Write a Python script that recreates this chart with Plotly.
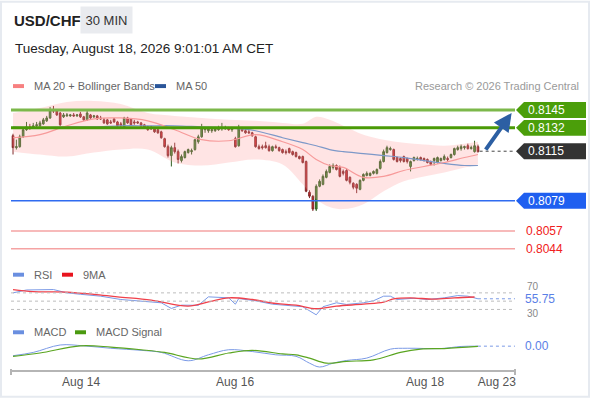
import plotly.graph_objects as go

# ---- data ----
# USD/CHF 30 min candles
open_ = [
    0.81263, 0.81176, 0.81183, 0.81255, 0.81306, 0.81327, 0.81320, 0.81335, 0.81335, 0.81349,
    0.81371, 0.81392, 0.81450, 0.81443, 0.81428, 0.81400, 0.81407, 0.81407, 0.81414, 0.81407,
    0.81421, 0.81400, 0.81378, 0.81414, 0.81400, 0.81407, 0.81392, 0.81378, 0.81378, 0.81363,
    0.81385, 0.81363, 0.81349, 0.81327, 0.81392, 0.81385, 0.81363, 0.81363, 0.81356, 0.81342,
    0.81327, 0.81320, 0.81313, 0.81306, 0.81291, 0.81241, 0.81183, 0.81118, 0.81176, 0.81147,
    0.81082, 0.81104, 0.81140, 0.81147, 0.81162, 0.81219, 0.81255, 0.81306, 0.81299, 0.81299,
    0.81299, 0.81306, 0.81313, 0.81313, 0.81320, 0.81306, 0.81241, 0.81190, 0.81313, 0.81299,
    0.81291, 0.81284, 0.81255, 0.81183, 0.81183, 0.81190, 0.81183, 0.81154, 0.81183, 0.81176,
    0.81162, 0.81147, 0.81169, 0.81147, 0.81140, 0.81111, 0.81111, 0.81075, 0.80852, 0.80823,
    0.80729, 0.80895, 0.80909, 0.80960, 0.80996, 0.81032, 0.81046, 0.81032, 0.81003, 0.81010,
    0.80960, 0.80917, 0.80909, 0.80873, 0.80938, 0.80974, 0.80974, 0.80989, 0.80989, 0.81025,
    0.81075, 0.81140, 0.81162, 0.81162, 0.81104, 0.81097, 0.81111, 0.81097, 0.81039, 0.81082,
    0.81090, 0.81104, 0.81097, 0.81090, 0.81075, 0.81082, 0.81068, 0.81082, 0.81090, 0.81097,
    0.81104, 0.81126, 0.81162, 0.81169, 0.81176, 0.81190, 0.81169, 0.81147, 0.81183,
]
high = [
    0.81277, 0.81234, 0.81270, 0.81320, 0.81363, 0.81349, 0.81356, 0.81363, 0.81371, 0.81392,
    0.81407, 0.81472, 0.81479, 0.81450, 0.81436, 0.81428, 0.81428, 0.81421, 0.81428, 0.81421,
    0.81436, 0.81407, 0.81443, 0.81421, 0.81414, 0.81414, 0.81407, 0.81392, 0.81385, 0.81378,
    0.81392, 0.81371, 0.81363, 0.81400, 0.81400, 0.81392, 0.81378, 0.81371, 0.81363, 0.81349,
    0.81335, 0.81335, 0.81320, 0.81313, 0.81299, 0.81248, 0.81198, 0.81190, 0.81212, 0.81162,
    0.81126, 0.81154, 0.81169, 0.81169, 0.81241, 0.81270, 0.81349, 0.81327, 0.81327, 0.81320,
    0.81327, 0.81335, 0.81356, 0.81335, 0.81327, 0.81327, 0.81255, 0.81342, 0.81327, 0.81313,
    0.81306, 0.81291, 0.81263, 0.81198, 0.81198, 0.81219, 0.81198, 0.81190, 0.81198, 0.81183,
    0.81169, 0.81162, 0.81176, 0.81154, 0.81147, 0.81118, 0.81118, 0.81082, 0.80866, 0.80830,
    0.80909, 0.80945, 0.80981, 0.81017, 0.81054, 0.81061, 0.81054, 0.81046, 0.81017, 0.81025,
    0.80967, 0.80924, 0.80917, 0.80945, 0.80989, 0.81003, 0.80996, 0.81010, 0.81025, 0.81090,
    0.81162, 0.81190, 0.81183, 0.81169, 0.81111, 0.81104, 0.81118, 0.81104, 0.81082, 0.81111,
    0.81111, 0.81111, 0.81104, 0.81097, 0.81082, 0.81104, 0.81111, 0.81104, 0.81126, 0.81111,
    0.81133, 0.81176, 0.81190, 0.81198, 0.81190, 0.81205, 0.81190, 0.81226, 0.81198,
]
low = [
    0.81126, 0.81162, 0.81176, 0.81248, 0.81299, 0.81306, 0.81313, 0.81320, 0.81327, 0.81342,
    0.81363, 0.81385, 0.81428, 0.81407, 0.81335, 0.81392, 0.81400, 0.81400, 0.81400, 0.81400,
    0.81392, 0.81371, 0.81371, 0.81385, 0.81392, 0.81378, 0.81378, 0.81349, 0.81342, 0.81349,
    0.81356, 0.81327, 0.81320, 0.81320, 0.81349, 0.81335, 0.81342, 0.81349, 0.81327, 0.81313,
    0.81299, 0.81306, 0.81284, 0.81277, 0.81241, 0.81176, 0.81104, 0.81039, 0.81133, 0.81061,
    0.81068, 0.81097, 0.81133, 0.81126, 0.81154, 0.81205, 0.81248, 0.81284, 0.81284, 0.81284,
    0.81291, 0.81299, 0.81299, 0.81306, 0.81299, 0.81291, 0.81176, 0.81183, 0.81291, 0.81277,
    0.81277, 0.81255, 0.81176, 0.81162, 0.81162, 0.81169, 0.81147, 0.81147, 0.81169, 0.81147,
    0.81133, 0.81126, 0.81133, 0.81118, 0.81104, 0.81090, 0.81061, 0.80852, 0.80809, 0.80715,
    0.80715, 0.80888, 0.80902, 0.80953, 0.80989, 0.81017, 0.81010, 0.80960, 0.80974, 0.80931,
    0.80909, 0.80873, 0.80845, 0.80866, 0.80931, 0.80967, 0.80967, 0.80981, 0.80981, 0.81017,
    0.81068, 0.81133, 0.81154, 0.81082, 0.81068, 0.81068, 0.81068, 0.81061, 0.81003, 0.81075,
    0.81082, 0.81082, 0.81075, 0.81061, 0.81046, 0.81046, 0.81061, 0.81075, 0.81082, 0.81075,
    0.81097, 0.81118, 0.81154, 0.81154, 0.81162, 0.81162, 0.81162, 0.81140, 0.81140,
]
close = [
    0.81176, 0.81183, 0.81255, 0.81306, 0.81327, 0.81320, 0.81335, 0.81342, 0.81356, 0.81378,
    0.81392, 0.81450, 0.81443, 0.81414, 0.81342, 0.81414, 0.81414, 0.81414, 0.81407, 0.81414,
    0.81400, 0.81378, 0.81428, 0.81392, 0.81407, 0.81385, 0.81385, 0.81356, 0.81349, 0.81356,
    0.81363, 0.81335, 0.81335, 0.81392, 0.81356, 0.81342, 0.81356, 0.81356, 0.81335, 0.81320,
    0.81306, 0.81313, 0.81291, 0.81284, 0.81248, 0.81183, 0.81118, 0.81176, 0.81147, 0.81090,
    0.81111, 0.81147, 0.81162, 0.81154, 0.81234, 0.81255, 0.81320, 0.81313, 0.81313, 0.81306,
    0.81313, 0.81320, 0.81320, 0.81320, 0.81306, 0.81313, 0.81183, 0.81313, 0.81299, 0.81284,
    0.81284, 0.81263, 0.81183, 0.81169, 0.81176, 0.81176, 0.81154, 0.81183, 0.81176, 0.81154,
    0.81140, 0.81140, 0.81140, 0.81126, 0.81111, 0.81097, 0.81068, 0.80859, 0.80823, 0.80729,
    0.80895, 0.80931, 0.80967, 0.81003, 0.81039, 0.81046, 0.81017, 0.80967, 0.80989, 0.80938,
    0.80924, 0.80888, 0.80881, 0.80938, 0.80981, 0.80989, 0.80989, 0.81003, 0.81017, 0.81075,
    0.81147, 0.81176, 0.81169, 0.81090, 0.81075, 0.81082, 0.81075, 0.81075, 0.81075, 0.81104,
    0.81097, 0.81090, 0.81082, 0.81068, 0.81054, 0.81097, 0.81104, 0.81097, 0.81111, 0.81090,
    0.81126, 0.81169, 0.81176, 0.81183, 0.81183, 0.81169, 0.81176, 0.81190, 0.81147,
]
candle_idx = list(range(len(close)))

# moving averages / bollinger bands, sampled at candle positions
ma_idx = [0, 8, 16, 24, 32, 40, 48, 56, 64, 72, 80, 86, 90, 94, 98, 104, 110, 116, 122, 128, 134, 138]
bb_upper = [0.81428, 0.81464, 0.81508, 0.81515, 0.81493, 0.81428, 0.81407, 0.81392, 0.81378, 0.81371, 0.81356,
            0.81349, 0.81400, 0.81378, 0.81335, 0.81270, 0.81234, 0.81212, 0.81198, 0.81190, 0.81205, 0.81219]
bb_lower = [0.81147, 0.81126, 0.81111, 0.81140, 0.81162, 0.81162, 0.81068, 0.81046, 0.81068, 0.81090, 0.81054,
            0.80909, 0.80801, 0.80744, 0.80729, 0.80765, 0.80859, 0.80931, 0.80967, 0.80996, 0.81032, 0.81054]
ma20 = [0.81248, 0.81270, 0.81335, 0.81385, 0.81392, 0.81371, 0.81306, 0.81234, 0.81226, 0.81270, 0.81219,
        0.81162, 0.81090, 0.81046, 0.81032, 0.80960, 0.80967, 0.81010, 0.81039, 0.81068, 0.81104, 0.81126]
ma50 = [0.81327, 0.81320, 0.81327, 0.81327, 0.81335, 0.81335, 0.81335, 0.81327, 0.81320, 0.81299, 0.81248,
        0.81212, 0.81190, 0.81162, 0.81147, 0.81133, 0.81118, 0.81104, 0.81082, 0.81061, 0.81046, 0.81046]

# RSI panel
rsi_idx = [0, 4, 12, 16, 20, 26, 32, 38, 44, 47, 50, 55, 58, 64, 66, 67, 72, 77, 83, 86, 90, 92,
           96, 99, 104, 107, 110, 112, 114, 119, 123, 128, 132, 135, 138]
rsi = [70, 77, 78, 70, 66.6, 62, 54, 50.8, 46, 32.4, 40.3, 40, 60.4, 58, 42.7, 56.3, 50.8, 42.7, 38, 36.5, 17, 36.5,
       46, 42, 46, 51, 62, 62, 54, 57, 54, 58, 63.5, 62, 55.75]
rsi_ma_idx = [0, 6, 16, 24, 31, 41, 52, 58, 64, 71, 78, 84, 90, 96, 104, 110, 113, 118, 125, 131, 137]
rsi_ma = [77.9, 73, 72, 66.6, 60.4, 52.3, 38, 48, 58, 54, 44.4, 40.3, 31.7, 38, 42.7, 47.5, 55.6, 58, 54.7, 58, 60]
rsi_levels = [70, 50, 30]

# MACD panel
macd_idx = [0, 6, 14, 21, 29, 38, 44, 52, 58, 64, 71, 78, 84, 88, 91, 95, 99, 105, 112, 117, 127, 133, 138]
macd = [-0.00032, -0.00021, 0.00004, 0.00001, -0.00007, -0.00014, -0.00021, -0.00049, -0.00029, -0.00012,
        -0.00018, -0.00029, -0.00034, -0.00057, -0.0007, -0.00057, -0.00048, -0.0004, -0.0001, -0.00007,
        -0.00008, -0.00001, 0.0]
signal_idx = [0, 8, 20, 29, 38, 45, 55, 64, 71, 80, 84, 88, 93, 99, 107, 115, 121, 128, 138]
signal = [-0.00034, -0.00023, 0.00001, -0.00003, -0.00012, -0.00021, -0.00043, -0.00023, -0.00014, -0.00026,
          -0.00029, -0.0004, -0.00057, -0.00051, -0.00046, -0.00021, -0.0001, -0.00008, -0.00001]

# key levels on the right
tag_levels = [0.8145, 0.8132, 0.8115, 0.8079]
red_levels = [0.8057, 0.8044]
last_price = 0.8115
target = 0.81428

tick_pos = [20.2, 65.9, 122.3, 143.6]
tick_text = ["Aug 14", "Aug 16", "Aug 18", "Aug 23"]

FONT = "Liberation Sans, Arial, sans-serif"
W, H = 590, 400
L, R, T, B = 11, 75, 98, 28
PW, PH = W - L - R, H - T - B


def px(X):
    return (X - L) / PW


def py(Y):
    return (H - B - Y) / PH


fig = go.Figure()

# bollinger band
fig.add_trace(go.Scatter(x=ma_idx, y=bb_lower, mode="lines", line=dict(width=0, shape="spline"),
                         hoverinfo="skip", showlegend=False))
fig.add_trace(go.Scatter(x=ma_idx, y=bb_upper, mode="lines", line=dict(width=0, shape="spline"),
                         fill="tonexty", fillcolor="rgba(255,150,150,0.26)", hoverinfo="skip", showlegend=False))
fig.add_trace(go.Scatter(x=ma_idx, y=ma50, mode="lines", line=dict(color="#7d98c8", width=1.2, shape="spline"),
                         showlegend=False))
fig.add_trace(go.Scatter(x=ma_idx, y=ma20, mode="lines", line=dict(color="#f79a9a", width=1.2, shape="spline"),
                         showlegend=False))

fig.add_trace(go.Candlestick(
    x=candle_idx, open=open_, high=high, low=low, close=close,
    increasing=dict(line=dict(color="#2f5f22", width=1), fillcolor="#3f9a32"),
    decreasing=dict(line=dict(color="#7e2a2a", width=1), fillcolor="#e2242a"),
    whiskerwidth=0, showlegend=False))

# RSI
fig.add_trace(go.Scatter(x=rsi_idx, y=rsi, yaxis="y2", mode="lines",
                         line=dict(color="#7b9ae6", width=1), showlegend=False))
fig.add_trace(go.Scatter(x=rsi_ma_idx, y=rsi_ma, yaxis="y2", mode="lines",
                         line=dict(color="#f0404a", width=1.3, shape="spline"), showlegend=False))

# MACD
fig.add_trace(go.Scatter(x=macd_idx, y=macd, yaxis="y3", mode="lines",
                         line=dict(color="#7b9ae6", width=1, shape="spline"), showlegend=False))
fig.add_trace(go.Scatter(x=signal_idx, y=signal, yaxis="y3", mode="lines",
                         line=dict(color="#5aa520", width=1.2, shape="spline"), showlegend=False))

shapes = []
annotations = []

# horizontal levels
level_style = {0.8145: ("#7cb84a", 3), 0.8132: ("#4a9a06", 3), 0.8079: ("#2f6bf0", 1.5)}
for lv, (col, wd) in level_style.items():
    shapes.append(dict(type="line", xref="paper", yref="y", x0=0, x1=1, y0=lv, y1=lv,
                       line=dict(color=col, width=wd)))
for lv in red_levels:
    shapes.append(dict(type="line", xref="paper", yref="y", x0=0, x1=1, y0=lv, y1=lv,
                       line=dict(color="#f5a3a3", width=1.5)))
    annotations.append(dict(xref="paper", yref="y", x=px(524), y=lv, xanchor="left", yanchor="middle",
                            text=f"{lv:.4f}", showarrow=False, font=dict(color="#f02020", size=12, family=FONT)))
shapes.append(dict(type="line", xref="x", yref="y", x0=len(close) - 0.5, x1=149, y0=last_price, y1=last_price,
                   line=dict(color="#444", width=1, dash="dot")))

# price tags
tag_colors = ["#4b9e0a", "#4b9e0a", "#333333", "#1f5ff0"]
half = 8 / 13861
for lv, col in zip(tag_levels, tag_colors):
    x_tip, x0, x1 = px(516), px(524), px(586)
    path = (f"M {x_tip},{lv} L {x0},{lv + half} L {x1},{lv + half} "
            f"L {x1},{lv - half} L {x0},{lv - half} Z")
    shapes.append(dict(type="path", xref="paper", yref="y", path=path, fillcolor=col, line=dict(width=0)))
    annotations.append(dict(xref="paper", yref="y", x=px(526), y=lv, xanchor="left", yanchor="middle",
                            text=f"{lv:.4f}", showarrow=False, font=dict(color="white", size=12, family=FONT)))

# forecast arrow
annotations.append(dict(x=148, y=target, xref="x", yref="y", ax=140, ay=last_price, axref="x", ayref="y",
                        text="", showarrow=True, arrowhead=2, arrowsize=0.9, arrowwidth=4,
                        arrowcolor="#2c5fa3", standoff=0))

# RSI guide lines and labels
for lv in rsi_levels:
    shapes.append(dict(type="line", xref="paper", yref="y2", x0=0, x1=1, y0=lv, y1=lv,
                       line=dict(color="#bdbdbd", width=1, dash="dot")))
shapes.append(dict(type="line", xref="x", yref="y2", x0=rsi_idx[-1], x1=149, y0=rsi[-1], y1=rsi[-1],
                   line=dict(color="#7b9ae6", width=1, dash="dot")))
for lv, Y in ((70, 288), (30, 315)):
    annotations.append(dict(xref="paper", yref="paper", x=px(525), y=py(Y), xanchor="left", yanchor="middle",
                            text=str(lv), showarrow=False, font=dict(color="#888", size=10, family=FONT)))
annotations.append(dict(xref="paper", yref="y2", x=px(523), y=rsi[-1], xanchor="left", yanchor="middle",
                        text=f"{rsi[-1]:.2f}", showarrow=False, bgcolor="white", height=12,
                        font=dict(color="#5b80e6", size=12, family=FONT)))

# MACD zero label
shapes.append(dict(type="line", xref="x", yref="y3", x0=macd_idx[-1], x1=149, y0=macd[-1], y1=macd[-1],
                   line=dict(color="#7b9ae6", width=1, dash="dot")))
annotations.append(dict(xref="paper", yref="y3", x=px(523), y=macd[-1], xanchor="left", yanchor="middle",
                        text=f"{macd[-1]:.2f}", showarrow=False, bgcolor="white",
                        font=dict(color="#5b80e6", size=12, family=FONT)))

# axis end ticks
for X in (11, 515):
    shapes.append(dict(type="line", xref="paper", yref="paper", x0=px(X), x1=px(X), y0=py(371), y1=py(377),
                       line=dict(color="#b5b5b5", width=2)))


# legends
def legend_item(X, Y, color, label):
    shapes.append(dict(type="rect", xref="paper", yref="paper", x0=px(X), x1=px(X + 11),
                       y0=py(Y + 2), y1=py(Y - 2), fillcolor=color, line=dict(width=0)))
    annotations.append(dict(xref="paper", yref="paper", x=px(X + 19), y=py(Y), xanchor="left", yanchor="middle",
                            text=label, showarrow=False, font=dict(color="#666", size=11, family=FONT)))


legend_item(13, 86, "#f78080", "MA 20 + Bollinger Bands")
legend_item(155, 86, "#2a5599", "MA 50")
legend_item(13, 276, "#6a8fe0", "RSI")
legend_item(62, 276, "#e8141e", "9MA")
legend_item(13, 334, "#6a8fe0", "MACD")
legend_item(75, 334, "#4a9a10", "MACD Signal")

# header
annotations.append(dict(xref="paper", yref="paper", x=px(12), y=py(20), xanchor="left", yanchor="middle",
                        text="<b>USD/CHF</b>", showarrow=False, font=dict(color="#222", size=15, family=FONT)))
annotations.append(dict(xref="paper", yref="paper", x=px(106), y=py(19), xanchor="center", yanchor="middle",
                        text="30 MIN", showarrow=False, bgcolor="#e9ebef", width=49, height=24,
                        font=dict(color="#333", size=13, family=FONT)))
annotations.append(dict(xref="paper", yref="paper", x=px(13), y=py(48), xanchor="left", yanchor="middle",
                        text="Tuesday, August 18, 2026 9:01:01 AM CET", showarrow=False,
                        font=dict(color="#222", size=13.5, family=FONT)))
annotations.append(dict(xref="paper", yref="paper", x=px(581), y=py(86), xanchor="right", yanchor="middle",
                        text="Research © 2026 Trading Central", showarrow=False,
                        font=dict(color="#9a9a9a", size=11, family=FONT)))

# outer frame
shapes.append(dict(type="rect", xref="paper", yref="paper", x0=px(1), x1=px(589), y0=py(399), y1=py(1),
                   line=dict(color="#e6eaf0", width=2), layer="below"))

fig.update_layout(
    width=W, height=H,
    margin=dict(l=L, r=R, t=T, b=B),
    paper_bgcolor="white", plot_bgcolor="white",
    showlegend=False,
    xaxis=dict(range=[-0.6, 149], anchor="y3", tickvals=tick_pos, ticktext=tick_text, showgrid=False,
               zeroline=False, showline=True, linecolor="#b5b5b5", linewidth=2, ticks="",
               tickfont=dict(color="#555", size=12, family=FONT), rangeslider=dict(visible=False)),
    yaxis=dict(domain=[py(262), 1], range=[0.80353, 0.81537], visible=False),
    yaxis2=dict(domain=[py(320), py(286)], range=[8.4, 89.9], visible=False),
    yaxis3=dict(domain=[0, py(338)], range=[-0.0008, 0.000333], visible=False),
    shapes=shapes,
    annotations=annotations,
)

# page body has a default margin; remove it so the figure sits at the window origin
fig.write_html("out.html", config={"displayModeBar": False},
               post_script="document.body.style.margin='0';document.body.style.padding='0';")
